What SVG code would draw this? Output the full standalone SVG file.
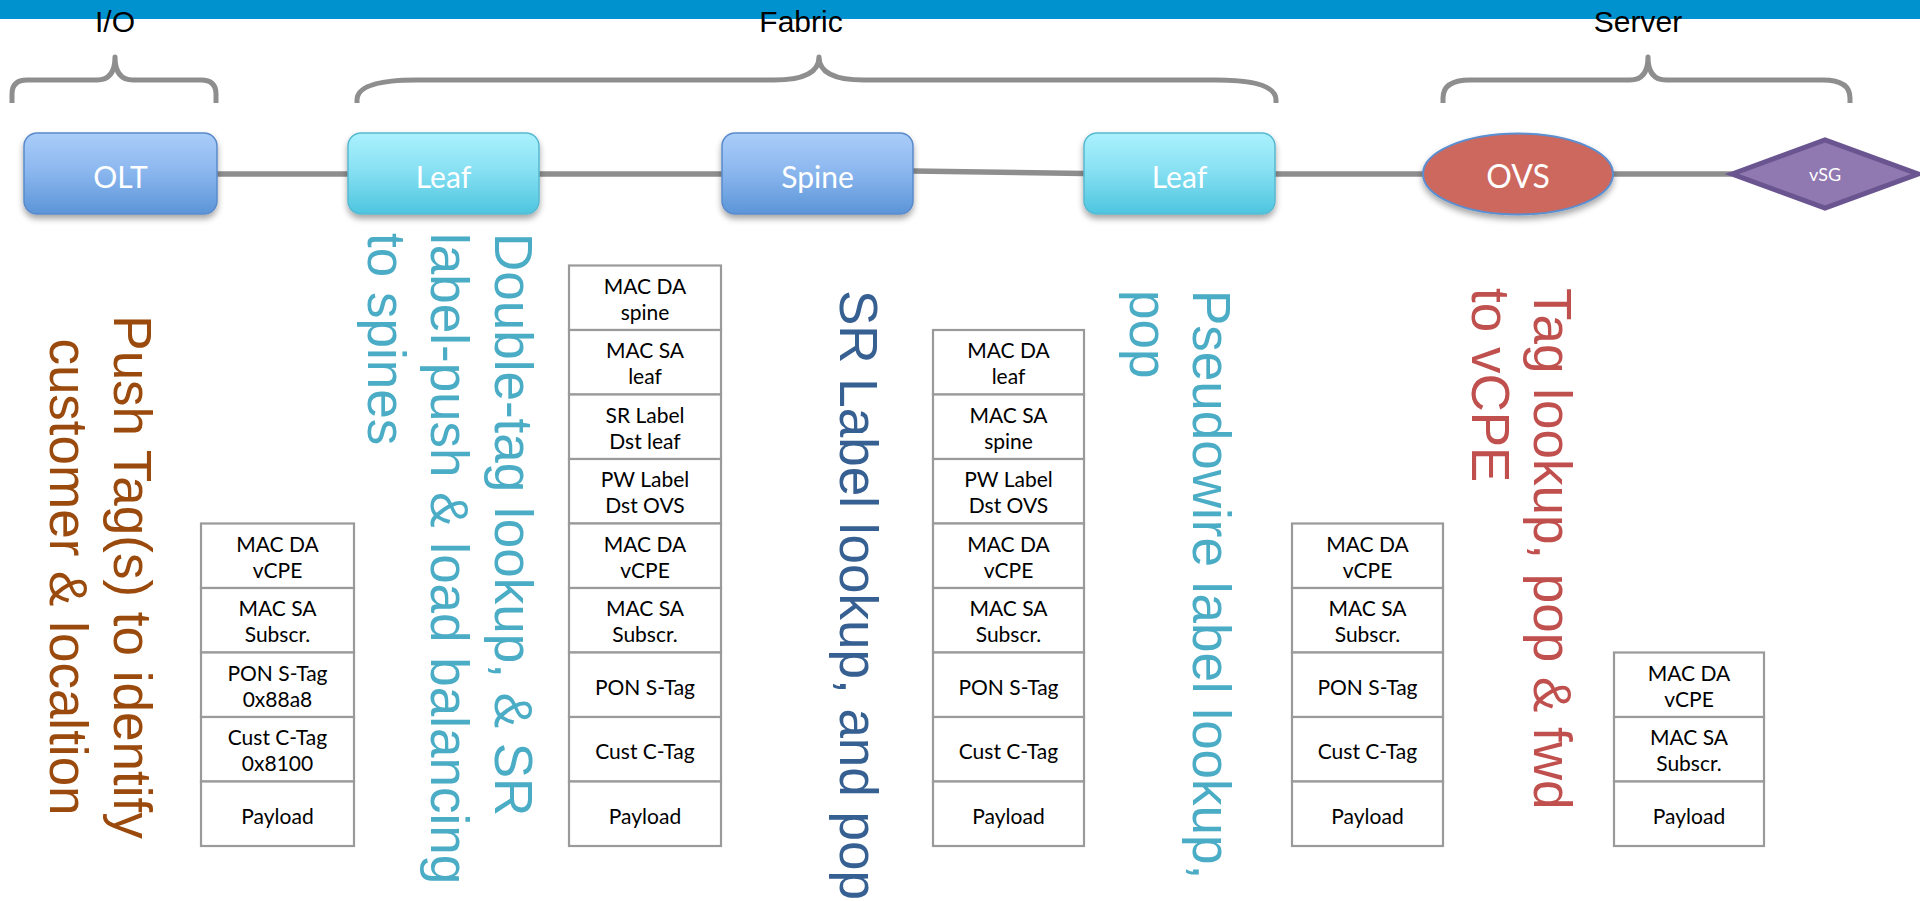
<svg xmlns="http://www.w3.org/2000/svg" width="1920" height="901" viewBox="0 0 1920 901">
  <style>
    .hdr { font-family: "Liberation Sans", Arial, sans-serif; font-size: 30px; fill: #000; text-anchor: middle; }
    .brace { fill: none; stroke: #8E8E8E; stroke-width: 5; stroke-linecap: butt; stroke-linejoin: round; }
    .link { stroke: #8E8E8E; stroke-width: 5.5; fill: none; }
    .nlabel { font-family: Lato, "Open Sans", sans-serif; font-size: 30px; fill: #fff; text-anchor: middle; }
    .cell { fill: #fff; stroke: #9A9A9A; stroke-width: 2.2; }
    .ct { font-family: Lato, "Open Sans", sans-serif; font-size: 21px; fill: #000; text-anchor: middle; }
    .big { font-family: "Liberation Sans", Arial, sans-serif; font-size: 53px; }
    .brown { fill: #9A4A0C; }
    .lblue { fill: #4BACC6; }
    .dblue { fill: #376092; }
    .red { fill: #C0504D; }
  </style>
  <defs>
    <linearGradient id="gBlue" x1="0" y1="0" x2="0" y2="1">
      <stop offset="0" stop-color="#AACDF9"/>
      <stop offset="0.45" stop-color="#8DB8EF"/>
      <stop offset="1" stop-color="#5B95D8"/>
    </linearGradient>
    <linearGradient id="gCyan" x1="0" y1="0" x2="0" y2="1">
      <stop offset="0" stop-color="#ABF1FD"/>
      <stop offset="0.45" stop-color="#88E1F3"/>
      <stop offset="1" stop-color="#4EC5DF"/>
    </linearGradient>
    <filter id="shadow" x="-10%" y="-20%" width="120%" height="150%">
      <feDropShadow dx="0" dy="4" stdDeviation="3" flood-color="#000" flood-opacity="0.35"/>
    </filter>
  </defs>

  <!-- header band -->
  <rect x="0" y="0" width="1920" height="19" fill="#0091CF"/>

  <!-- section headings -->
  <text class="hdr" x="115" y="32">I/O</text>
  <text class="hdr" x="801" y="32">Fabric</text>
  <text class="hdr" x="1638" y="32">Server</text>

  <!-- section braces -->
  <g id="braces">
    <path class="brace" d="M12,103 L12,94 Q12,80 27,80 L97,80 Q115,80 115,57 Q115,80 133,80 L201,80 Q216,80 216,94 L216,103"/>
    <path class="brace" d="M357,103 L357,100 Q357,80 417,80 L774,80 Q819,80 819,57 Q819,80 864,80 L1216,80 Q1276,80 1276,100 L1276,103"/>
    <path class="brace" d="M1443,103 L1443,98 Q1443,80 1470,80 L1630,80 Q1648,80 1648,57 Q1648,80 1666,80 L1823,80 Q1850,80 1850,98 L1850,103"/>
  </g>

  <!-- connectors -->
  <g id="connectors">
    <line class="link" x1="217" y1="174" x2="348" y2="174"/>
    <line class="link" x1="539" y1="174" x2="722" y2="174"/>
    <line class="link" x1="913" y1="171" x2="1084" y2="173.5"/>
    <line class="link" x1="1275" y1="174" x2="1423" y2="174"/>
    <line class="link" x1="1613" y1="174" x2="1732" y2="174"/>
  </g>

  <!-- nodes -->
  <g id="olt">
    <rect x="24" y="133" width="193" height="81" rx="13" fill="url(#gBlue)" stroke="#5A8ACB" stroke-width="1.5" filter="url(#shadow)"/>
    <text class="nlabel" x="120.5" y="188">OLT</text>
  </g>
  <g id="leaf1">
    <rect x="348" y="133" width="191" height="81" rx="13" fill="url(#gCyan)" stroke="#57B9D1" stroke-width="1.5" filter="url(#shadow)"/>
    <text class="nlabel" x="443.5" y="188">Leaf</text>
  </g>
  <g id="spine">
    <rect x="722" y="133" width="191" height="81" rx="13" fill="url(#gBlue)" stroke="#5A8ACB" stroke-width="1.5" filter="url(#shadow)"/>
    <text class="nlabel" x="817.5" y="188">Spine</text>
  </g>
  <g id="leaf2">
    <rect x="1084" y="133" width="191" height="81" rx="13" fill="url(#gCyan)" stroke="#57B9D1" stroke-width="1.5" filter="url(#shadow)"/>
    <text class="nlabel" x="1179.5" y="188">Leaf</text>
  </g>
  <g id="ovs">
    <ellipse cx="1518" cy="174" rx="95" ry="40.5" fill="#CD675F" stroke="#5B8FD0" stroke-width="2" filter="url(#shadow)"/>
    <text class="nlabel" x="1518" y="188" style="font-size:32px">OVS</text>
  </g>
  <g id="vsg">
    <polygon points="1732,174 1825,140 1918,174 1825,208" fill="#8F79B0" stroke="#6A5590" stroke-width="5" stroke-linejoin="miter"/>
    <text class="nlabel" x="1825" y="181" style="font-size:18px">vSG</text>
  </g>

  <!-- action notes, written downward -->
  <g id="note-olt" class="big brown" text-anchor="middle">
    <text transform="translate(114,577) rotate(90)">Push Tag(s) to identify</text>
    <text transform="translate(50,577) rotate(90)">customer &amp; localtion</text>
  </g>
  <g id="note-leaf1" class="big lblue">
    <text transform="translate(495,233) rotate(90)">Double-tag lookup, &amp; SR</text>
    <text transform="translate(431,233) rotate(90)">label-push &amp; load balancing</text>
    <text transform="translate(368,233) rotate(90)">to spines</text>
  </g>
  <g id="note-spine" class="big dblue">
    <text transform="translate(840,290) rotate(90)">SR Label lookup, and pop</text>
  </g>
  <g id="note-leaf2" class="big lblue">
    <text transform="translate(1193,290) rotate(90)">Pseudowire label lookup,</text>
    <text transform="translate(1130,290) rotate(90)">pop</text>
  </g>
  <g id="note-ovs" class="big red">
    <text transform="translate(1534,288) rotate(90)">Tag lookup, pop &amp; fwd</text>
    <text transform="translate(1472,288) rotate(90)">to vCPE</text>
  </g>

  <!-- packet header stacks -->
  <g id="pkt-olt">
    <rect class="cell" x="201" y="523.5" width="153" height="64.5"/>
    <rect class="cell" x="201" y="588" width="153" height="64.5"/>
    <rect class="cell" x="201" y="652.5" width="153" height="64.5"/>
    <rect class="cell" x="201" y="717" width="153" height="64.5"/>
    <rect class="cell" x="201" y="781.5" width="153" height="64.5"/>
    <text class="ct" x="277.5" y="551.5">MAC DA<tspan x="277.5" dy="26">vCPE</tspan></text>
    <text class="ct" x="277.5" y="616">MAC SA<tspan x="277.5" dy="26">Subscr.</tspan></text>
    <text class="ct" x="277.5" y="680.5">PON S-Tag<tspan x="277.5" dy="26">0x88a8</tspan></text>
    <text class="ct" x="277.5" y="745">Cust C-Tag<tspan x="277.5" dy="26">0x8100</tspan></text>
    <text class="ct" x="277.5" y="823.5">Payload</text>
  </g>

  <g id="pkt-leaf1">
    <rect class="cell" x="569" y="265.5" width="152" height="64.5"/>
    <rect class="cell" x="569" y="330" width="152" height="64.5"/>
    <rect class="cell" x="569" y="394.5" width="152" height="64.5"/>
    <rect class="cell" x="569" y="459" width="152" height="64.5"/>
    <rect class="cell" x="569" y="523.5" width="152" height="64.5"/>
    <rect class="cell" x="569" y="588" width="152" height="64.5"/>
    <rect class="cell" x="569" y="652.5" width="152" height="64.5"/>
    <rect class="cell" x="569" y="717" width="152" height="64.5"/>
    <rect class="cell" x="569" y="781.5" width="152" height="64.5"/>
    <text class="ct" x="645" y="293.5">MAC DA<tspan x="645" dy="26">spine</tspan></text>
    <text class="ct" x="645" y="358">MAC SA<tspan x="645" dy="26">leaf</tspan></text>
    <text class="ct" x="645" y="422.5">SR Label<tspan x="645" dy="26">Dst leaf</tspan></text>
    <text class="ct" x="645" y="487">PW Label<tspan x="645" dy="26">Dst OVS</tspan></text>
    <text class="ct" x="645" y="551.5">MAC DA<tspan x="645" dy="26">vCPE</tspan></text>
    <text class="ct" x="645" y="616">MAC SA<tspan x="645" dy="26">Subscr.</tspan></text>
    <text class="ct" x="645" y="694.5">PON S-Tag</text>
    <text class="ct" x="645" y="759">Cust C-Tag</text>
    <text class="ct" x="645" y="823.5">Payload</text>
  </g>

  <g id="pkt-spine">
    <rect class="cell" x="933" y="330" width="151" height="64.5"/>
    <rect class="cell" x="933" y="394.5" width="151" height="64.5"/>
    <rect class="cell" x="933" y="459" width="151" height="64.5"/>
    <rect class="cell" x="933" y="523.5" width="151" height="64.5"/>
    <rect class="cell" x="933" y="588" width="151" height="64.5"/>
    <rect class="cell" x="933" y="652.5" width="151" height="64.5"/>
    <rect class="cell" x="933" y="717" width="151" height="64.5"/>
    <rect class="cell" x="933" y="781.5" width="151" height="64.5"/>
    <text class="ct" x="1008.5" y="358">MAC DA<tspan x="1008.5" dy="26">leaf</tspan></text>
    <text class="ct" x="1008.5" y="422.5">MAC SA<tspan x="1008.5" dy="26">spine</tspan></text>
    <text class="ct" x="1008.5" y="487">PW Label<tspan x="1008.5" dy="26">Dst OVS</tspan></text>
    <text class="ct" x="1008.5" y="551.5">MAC DA<tspan x="1008.5" dy="26">vCPE</tspan></text>
    <text class="ct" x="1008.5" y="616">MAC SA<tspan x="1008.5" dy="26">Subscr.</tspan></text>
    <text class="ct" x="1008.5" y="694.5">PON S-Tag</text>
    <text class="ct" x="1008.5" y="759">Cust C-Tag</text>
    <text class="ct" x="1008.5" y="823.5">Payload</text>
  </g>

  <g id="pkt-leaf2">
    <rect class="cell" x="1292" y="523.5" width="151" height="64.5"/>
    <rect class="cell" x="1292" y="588" width="151" height="64.5"/>
    <rect class="cell" x="1292" y="652.5" width="151" height="64.5"/>
    <rect class="cell" x="1292" y="717" width="151" height="64.5"/>
    <rect class="cell" x="1292" y="781.5" width="151" height="64.5"/>
    <text class="ct" x="1367.5" y="551.5">MAC DA<tspan x="1367.5" dy="26">vCPE</tspan></text>
    <text class="ct" x="1367.5" y="616">MAC SA<tspan x="1367.5" dy="26">Subscr.</tspan></text>
    <text class="ct" x="1367.5" y="694.5">PON S-Tag</text>
    <text class="ct" x="1367.5" y="759">Cust C-Tag</text>
    <text class="ct" x="1367.5" y="823.5">Payload</text>
  </g>

  <g id="pkt-ovs">
    <rect class="cell" x="1614" y="652.5" width="150" height="64.5"/>
    <rect class="cell" x="1614" y="717" width="150" height="64.5"/>
    <rect class="cell" x="1614" y="781.5" width="150" height="64.5"/>
    <text class="ct" x="1689" y="680.5">MAC DA<tspan x="1689" dy="26">vCPE</tspan></text>
    <text class="ct" x="1689" y="745">MAC SA<tspan x="1689" dy="26">Subscr.</tspan></text>
    <text class="ct" x="1689" y="823.5">Payload</text>
  </g>
</svg>
